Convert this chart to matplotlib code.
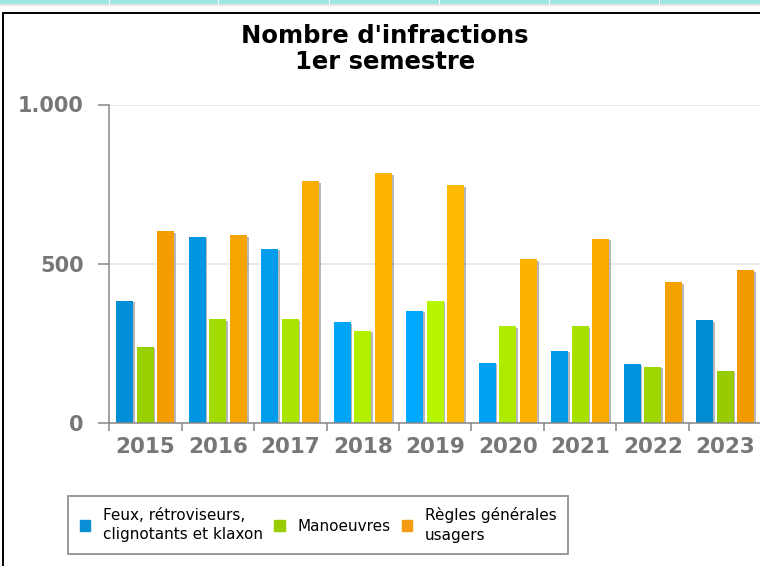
import matplotlib.pyplot as plt
import matplotlib.patches as mpatches
import matplotlib.patheffects as pe
from matplotlib.lines import Line2D
from matplotlib.colors import to_rgb
import numpy as np

# ================== Data ==================
YEARS = ["2015", "2016", "2017", "2018", "2019", "2020", "2021", "2022", "2023"]
SERIES_NAMES = [
    "Feux, rétroviseurs,\nclignotants et klaxon",
    "Manoeuvres",
    "Règles générales\nusagers",
]
FEUX = [384, 585, 547, 316, 353, 189, 227, 184, 322]
MANOEUVRES = [240, 327, 327, 290, 384, 303, 303, 177, 164]
REGLES = [603, 590, 760, 785, 747, 515, 579, 442, 479]
Y_TICKS = [0, 500, 1000]
Y_TICK_LABELS = ["0", "500", "1.000"]

# ================== Style ==================
W, H = 760, 566
DARK = ["#008cd2", "#96cc00", "#f29a00"]     # chart edges
BRIGHT = ["#00aaff", "#b8f800", "#ffbb00"]   # chart centre
LEGEND_COLORS = ["#0a8fd6", "#99cc00", "#f39c12"]
AXIS_GREY = "#888888"
LABEL_GREY = "#777777"


def blend(c1, c2, t):
    a, b = np.array(to_rgb(c1)), np.array(to_rgb(c2))
    return tuple(a + (b - a) * t)


fig = plt.figure(figsize=(W / 100, H / 100), dpi=100)

# page decorations: teal strip at the top and the black frame (left + top only)
fig.patches.append(mpatches.Rectangle((0, 1 - 4 / H), 1, 4 / H, transform=fig.transFigure,
                                      facecolor="#a0e4e4", edgecolor="none"))
fig.patches.append(mpatches.Rectangle((0, 1 - 6 / H), 1, 2 / H, transform=fig.transFigure,
                                      facecolor="#e6e6e6", edgecolor="none"))
for xs in [109, 218, 329, 439, 549, 659]:
    fig.patches.append(mpatches.Rectangle((xs / W, 1 - 4 / H), 1 / W, 4 / H,
                                          transform=fig.transFigure,
                                          facecolor="white", edgecolor="none"))
fig.add_artist(Line2D([2.5 / W, 2.5 / W, 1.0], [0.0, 1 - 12.5 / H, 1 - 12.5 / H],
                      transform=fig.transFigure, color="black", linewidth=1.4,
                      solid_joinstyle="miter"))

ax = fig.add_axes([109 / W, 1 - 423 / H, 652.5 / W, (423 - 104.5) / H])

x = np.arange(len(YEARS))
width = 0.235
offsets = [-0.285, 0.0, 0.285]
shadow = [pe.SimplePatchShadow(offset=(1.2, -1.2), shadow_rgbFace="#888888", alpha=0.6),
          pe.Normal()]
for s, vals in enumerate([FEUX, MANOEUVRES, REGLES]):
    cols = [blend(DARK[s], BRIGHT[s], 1 - abs(i - 3.8) / 4.2) for i in range(len(YEARS))]
    bars = ax.bar(x + offsets[s], vals, width, color=cols, zorder=3)
    for b in bars:
        b.set_path_effects(shadow)

ax.set_xlim(-0.5, len(YEARS) - 0.5)
ax.set_ylim(0, 1000)

ax.set_yticks(Y_TICKS)
ax.set_yticklabels(Y_TICK_LABELS)
ax.set_xticks(x)
ax.set_xticklabels(YEARS)
ax.set_xticks(np.arange(len(YEARS) + 1) - 0.5, minor=True)

ax.tick_params(axis="y", length=8, width=1.1, color=AXIS_GREY, pad=10,
               labelsize=15, labelcolor=LABEL_GREY)
ax.tick_params(axis="x", which="major", length=0, pad=10,
               labelsize=15.5, labelcolor=LABEL_GREY)
ax.tick_params(axis="x", which="minor", length=6, width=1.1, color=AXIS_GREY)
for lbl in ax.get_xticklabels() + ax.get_yticklabels():
    lbl.set_fontweight("bold")

ax.grid(axis="y", color="#e6e6e6", linewidth=1.2, zorder=0)
ax.set_axisbelow(True)
for side in ["top", "right"]:
    ax.spines[side].set_visible(False)
for side in ["left", "bottom"]:
    ax.spines[side].set_color(AXIS_GREY)
    ax.spines[side].set_linewidth(1.1)
ax.spines["bottom"].set_zorder(5)

fig.text(385 / W, 1 - 49 / H, "Nombre d'infractions\n1er semestre", ha="center",
         va="center", fontsize=17.5, fontweight="bold", linespacing=1.15)

handles = [mpatches.Patch(color=c, label=n) for c, n in zip(LEGEND_COLORS, SERIES_NAMES)]
leg = fig.legend(handles=handles, loc="center", bbox_to_anchor=(318 / W, 1 - 525 / H),
                 ncol=3, fontsize=11, frameon=True, fancybox=False, edgecolor="#999999",
                 handlelength=0.7, handleheight=0.7, handletextpad=0.8,
                 columnspacing=0.75, borderpad=0.75, framealpha=1)
leg.get_frame().set_linewidth(1.4)
for t in leg.get_texts():
    t.set_linespacing(1.35)

fig.savefig("out.png", dpi=100)
